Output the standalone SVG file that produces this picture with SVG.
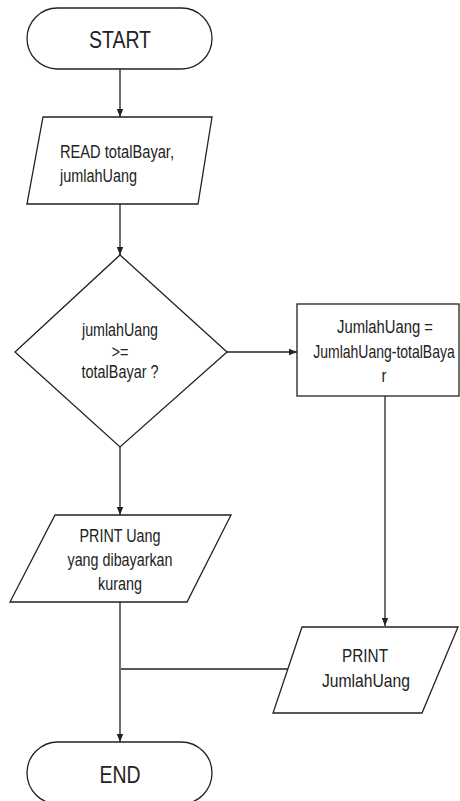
<svg xmlns="http://www.w3.org/2000/svg" width="460" height="801" viewBox="0 0 460 801">
<style>
.s{fill:#fff;stroke:#222;stroke-width:1.3}
.t{font-family:"Liberation Sans",Arial,sans-serif;font-size:17.5px;fill:#222}
.b{font-size:23px}
.p{font-size:19px}
.c{text-anchor:middle}
.e{fill:none;stroke:#222;stroke-width:1.3}
</style>
<defs>
<marker id="ah" viewBox="0 0 10 10" refX="10" refY="5" markerWidth="8" markerHeight="8" markerUnits="userSpaceOnUse" orient="auto">
<path d="M0,1 L10,5 L0,9 z" fill="#222"/>
</marker>
</defs>
<rect width="460" height="801" fill="#fff"/>
<g id="connectors">
<path class="e" d="M120,69 V117" marker-end="url(#ah)"/>
<path class="e" d="M120,204 V255" marker-end="url(#ah)"/>
<path class="e" d="M227,352 H297" marker-end="url(#ah)"/>
<path class="e" d="M120,447 V515" marker-end="url(#ah)"/>
<path class="e" d="M385,396 V626" marker-end="url(#ah)"/>
<path class="e" d="M120,602 V742" marker-end="url(#ah)"/>
<path class="e" d="M288,669 H121"/>
</g>
<g id="start">
<rect class="s" x="27" y="8" width="185" height="61" rx="30.5"/>
<text class="t b c" x="120" y="48" textLength="62" lengthAdjust="spacingAndGlyphs">START</text>
</g>
<g id="read">
<polygon class="s" points="43,117 212,117 198,204 27,204"/>
<text class="t" x="60" y="158" textLength="114" lengthAdjust="spacingAndGlyphs">READ totalBayar,</text>
<text class="t" x="60" y="182" textLength="77" lengthAdjust="spacingAndGlyphs">jumlahUang</text>
</g>
<g id="decision">
<polygon class="s" points="120,255 227,352 120,447 15,352"/>
<text class="t c" x="120" y="336" textLength="76" lengthAdjust="spacingAndGlyphs">jumlahUang</text>
<text class="t c" x="120" y="358" textLength="17" lengthAdjust="spacingAndGlyphs">&gt;=</text>
<text class="t c" x="120" y="378" textLength="77" lengthAdjust="spacingAndGlyphs">totalBayar ?</text>
</g>
<g id="calc">
<rect class="s" x="297" y="304" width="162" height="92"/>
<text class="t c" x="385" y="333" textLength="96" lengthAdjust="spacingAndGlyphs">JumlahUang =</text>
<text class="t c" transform="translate(384,358) scale(0.8,1)" x="0" y="0">JumlahUang-totalBaya</text>
<text class="t c" x="384" y="382" textLength="5" lengthAdjust="spacingAndGlyphs">r</text>
</g>
<g id="print-kurang">
<polygon class="s" points="55,515 231,515 187,602 10,602"/>
<text class="t c" x="120" y="542" textLength="81" lengthAdjust="spacingAndGlyphs">PRINT Uang</text>
<text class="t c" x="120" y="566" textLength="105" lengthAdjust="spacingAndGlyphs">yang dibayarkan</text>
<text class="t c" x="120" y="590" textLength="44" lengthAdjust="spacingAndGlyphs">kurang</text>
</g>
<g id="print-jumlah">
<polygon class="s" points="302,627 458,627 422,713 273,713"/>
<text class="t p c" x="365" y="662" textLength="46" lengthAdjust="spacingAndGlyphs">PRINT</text>
<text class="t p c" x="366" y="687" textLength="88" lengthAdjust="spacingAndGlyphs">JumlahUang</text>
</g>
<g id="end">
<rect class="s" x="27" y="742" width="185" height="62" rx="31"/>
<text class="t b c" x="120" y="783" textLength="41" lengthAdjust="spacingAndGlyphs">END</text>
</g>
</svg>
